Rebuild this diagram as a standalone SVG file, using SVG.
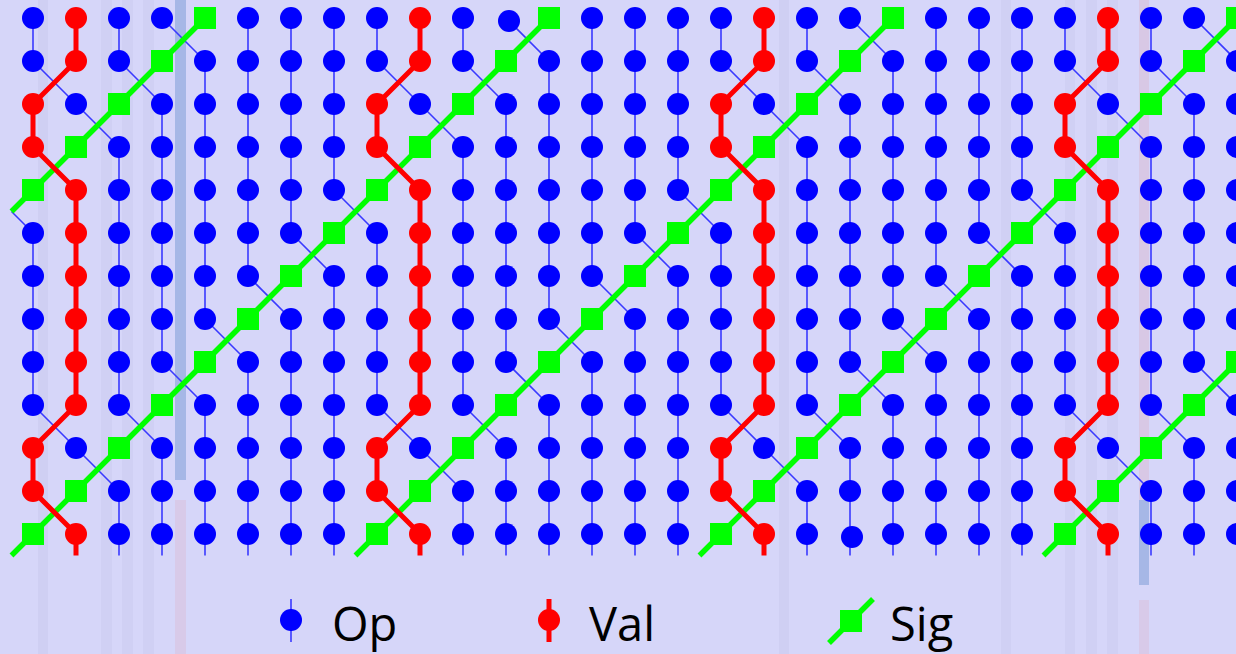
<svg xmlns="http://www.w3.org/2000/svg" xmlns:xlink="http://www.w3.org/1999/xlink" width="1236" height="654" viewBox="0 0 1236 654">
<style>
.bg{fill:#d6d6f9}
.st{fill:#cacaee}
.stb{fill:#a6b7e6}
.stp{fill:#d8c2dd}
.lo{fill:none;stroke:#3a3aff;stroke-width:1.6}
.lv{fill:none;stroke:#ff0000;stroke-width:5;stroke-linejoin:round}
.lg{fill:none;stroke:#00ff00;stroke-width:5.5}
.op{fill:#0000ff}
.val{fill:#ff0000}
.sig{fill:#00ff00}
.lbl{font-family:"Open Sans","Liberation Sans",sans-serif;font-size:47px;fill:#000}
</style>
<defs>
<circle id="op" class="op" r="11"/>
<circle id="val" class="val" r="11"/>
<rect id="sig" class="sig" x="-11" y="-11" width="22" height="22"/>
<!-- one 8-column block of the lattice; repeated every 344px -->
<path id="opV" class="lo" d="M33 18V61M33 233V405M119 18V61M119 147V405M119 491V555.5M162 104V362M162 448V555.5M205 61V319M205 405V555.5M248 18V276M248 362V555.5M291 18V233M291 319V555.5M334 18V190M334 276V555.5"/>
<path id="opD" class="lo" d="M162 18l43 43M33 61l43 43M119 61l43 43M76 104l43 43M334 190l43 43M291 233l43 43M248 276l43 43M205 319l43 43M162 362l43 43M33 405l43 43M119 405l43 43M76 448l43 43"/>
<path id="valP" class="lv" d="M76 18V61L33 104V147L76 190V405L33 448V491L76 534V555.5"/>
</defs>
<rect class="bg" x="0" y="0" width="1236" height="654"/>
<g id="stripes">
<rect class="st" x="38" y="0" width="10" height="654" opacity="0.6"/>
<rect class="st" x="101" y="0" width="11" height="654" opacity="0.45"/>
<rect class="st" x="122" y="0" width="11" height="654" opacity="0.45"/>
<rect class="st" x="143" y="0" width="11" height="654" opacity="0.45"/>
<rect class="stb" x="175" y="0" width="11" height="480"/>
<rect class="stp" x="175" y="500" width="11" height="154" opacity="0.6"/>
<rect class="st" x="779" y="0" width="10" height="654" opacity="0.6"/>
<rect class="st" x="1001" y="0" width="10" height="654" opacity="0.45"/>
<rect class="st" x="1065" y="0" width="10" height="654" opacity="0.45"/>
<rect class="st" x="1086" y="0" width="11" height="654" opacity="0.45"/>
<rect class="st" x="1107" y="0" width="11" height="654" opacity="0.45"/>
<rect class="stp" x="1139" y="0" width="10" height="500" opacity="0.7"/>
<rect class="stb" x="1139" y="500" width="10" height="85"/>
<rect class="stp" x="1139" y="600" width="10" height="54" opacity="0.6"/>
</g>
<g id="connectors">
<use href="#opV"/><use href="#opV" x="344"/><use href="#opV" x="688"/><use href="#opV" x="1032"/>
<use href="#opD"/><use href="#opD" x="344"/><use href="#opD" x="688"/><use href="#opD" x="1032"/>
<path class="lo" d="M11.5 211.5L33 233"/>
<path class="lg" d="M205 18L11.5 211.5M549 18L11.5 555.5M893 18L355.5 555.5M1237 18L699.5 555.5M1237 362L1043.5 555.5"/>
<use href="#valP"/><use href="#valP" x="344"/><use href="#valP" x="688"/><use href="#valP" x="1032"/>
</g>
<g id="nodes">
<g id="n0_0"><use href="#op" x="33" y="18"/></g><g id="n0_1"><use href="#val" x="76" y="18"/></g><g id="n0_2"><use href="#op" x="119" y="18"/></g><g id="n0_3"><use href="#op" x="162" y="18"/></g><g id="n0_4"><use href="#sig" x="205" y="18"/></g><g id="n0_5"><use href="#op" x="248" y="18"/></g><g id="n0_6"><use href="#op" x="291" y="18"/></g><g id="n0_7"><use href="#op" x="334" y="18"/></g>
<g id="n0_8"><use href="#op" x="377" y="18"/></g><g id="n0_9"><use href="#val" x="420" y="18"/></g><g id="n0_10"><use href="#op" x="463" y="18"/></g><g id="n0_11"><use href="#op" x="509" y="21"/></g><g id="n0_12"><use href="#sig" x="549" y="18"/></g><g id="n0_13"><use href="#op" x="592" y="18"/></g><g id="n0_14"><use href="#op" x="635" y="18"/></g><g id="n0_15"><use href="#op" x="678" y="18"/></g>
<g id="n0_16"><use href="#op" x="721" y="18"/></g><g id="n0_17"><use href="#val" x="764" y="18"/></g><g id="n0_18"><use href="#op" x="807" y="18"/></g><g id="n0_19"><use href="#op" x="850" y="18"/></g><g id="n0_20"><use href="#sig" x="893" y="18"/></g><g id="n0_21"><use href="#op" x="936" y="18"/></g><g id="n0_22"><use href="#op" x="979" y="18"/></g><g id="n0_23"><use href="#op" x="1022" y="18"/></g>
<g id="n0_24"><use href="#op" x="1065" y="18"/></g><g id="n0_25"><use href="#val" x="1108" y="18"/></g><g id="n0_26"><use href="#op" x="1151" y="18"/></g><g id="n0_27"><use href="#op" x="1194" y="18"/></g><g id="n0_28"><use href="#sig" x="1237" y="18"/></g>

<g id="n1_0"><use href="#op" x="33" y="61"/></g><g id="n1_1"><use href="#val" x="76" y="61"/></g><g id="n1_2"><use href="#op" x="119" y="61"/></g><g id="n1_3"><use href="#sig" x="162" y="61"/></g><g id="n1_4"><use href="#op" x="205" y="61"/></g><g id="n1_5"><use href="#op" x="248" y="61"/></g><g id="n1_6"><use href="#op" x="291" y="61"/></g><g id="n1_7"><use href="#op" x="334" y="61"/></g>
<g id="n1_8"><use href="#op" x="377" y="61"/></g><g id="n1_9"><use href="#val" x="420" y="61"/></g><g id="n1_10"><use href="#op" x="463" y="61"/></g><g id="n1_11"><use href="#sig" x="506" y="61"/></g><g id="n1_12"><use href="#op" x="549" y="61"/></g><g id="n1_13"><use href="#op" x="592" y="61"/></g><g id="n1_14"><use href="#op" x="635" y="61"/></g><g id="n1_15"><use href="#op" x="678" y="61"/></g>
<g id="n1_16"><use href="#op" x="721" y="61"/></g><g id="n1_17"><use href="#val" x="764" y="61"/></g><g id="n1_18"><use href="#op" x="807" y="61"/></g><g id="n1_19"><use href="#sig" x="850" y="61"/></g><g id="n1_20"><use href="#op" x="893" y="61"/></g><g id="n1_21"><use href="#op" x="936" y="61"/></g><g id="n1_22"><use href="#op" x="979" y="61"/></g><g id="n1_23"><use href="#op" x="1022" y="61"/></g>
<g id="n1_24"><use href="#op" x="1065" y="61"/></g><g id="n1_25"><use href="#val" x="1108" y="61"/></g><g id="n1_26"><use href="#op" x="1151" y="61"/></g><g id="n1_27"><use href="#sig" x="1194" y="61"/></g><g id="n1_28"><use href="#op" x="1237" y="61"/></g>

<g id="n2_0"><use href="#val" x="33" y="104"/></g><g id="n2_1"><use href="#op" x="76" y="104"/></g><g id="n2_2"><use href="#sig" x="119" y="104"/></g><g id="n2_3"><use href="#op" x="162" y="104"/></g><g id="n2_4"><use href="#op" x="205" y="104"/></g><g id="n2_5"><use href="#op" x="248" y="104"/></g><g id="n2_6"><use href="#op" x="291" y="104"/></g><g id="n2_7"><use href="#op" x="334" y="104"/></g>
<g id="n2_8"><use href="#val" x="377" y="104"/></g><g id="n2_9"><use href="#op" x="420" y="104"/></g><g id="n2_10"><use href="#sig" x="463" y="104"/></g><g id="n2_11"><use href="#op" x="506" y="104"/></g><g id="n2_12"><use href="#op" x="549" y="104"/></g><g id="n2_13"><use href="#op" x="592" y="104"/></g><g id="n2_14"><use href="#op" x="635" y="104"/></g><g id="n2_15"><use href="#op" x="678" y="104"/></g>
<g id="n2_16"><use href="#val" x="721" y="104"/></g><g id="n2_17"><use href="#op" x="764" y="104"/></g><g id="n2_18"><use href="#sig" x="807" y="104"/></g><g id="n2_19"><use href="#op" x="850" y="104"/></g><g id="n2_20"><use href="#op" x="893" y="104"/></g><g id="n2_21"><use href="#op" x="936" y="104"/></g><g id="n2_22"><use href="#op" x="979" y="104"/></g><g id="n2_23"><use href="#op" x="1022" y="104"/></g>
<g id="n2_24"><use href="#val" x="1065" y="104"/></g><g id="n2_25"><use href="#op" x="1108" y="104"/></g><g id="n2_26"><use href="#sig" x="1151" y="104"/></g><g id="n2_27"><use href="#op" x="1194" y="104"/></g><g id="n2_28"><use href="#op" x="1237" y="104"/></g>

<g id="n3_0"><use href="#val" x="33" y="147"/></g><g id="n3_1"><use href="#sig" x="76" y="147"/></g><g id="n3_2"><use href="#op" x="119" y="147"/></g><g id="n3_3"><use href="#op" x="162" y="147"/></g><g id="n3_4"><use href="#op" x="205" y="147"/></g><g id="n3_5"><use href="#op" x="248" y="147"/></g><g id="n3_6"><use href="#op" x="291" y="147"/></g><g id="n3_7"><use href="#op" x="334" y="147"/></g>
<g id="n3_8"><use href="#val" x="377" y="147"/></g><g id="n3_9"><use href="#sig" x="420" y="147"/></g><g id="n3_10"><use href="#op" x="463" y="147"/></g><g id="n3_11"><use href="#op" x="506" y="147"/></g><g id="n3_12"><use href="#op" x="549" y="147"/></g><g id="n3_13"><use href="#op" x="592" y="147"/></g><g id="n3_14"><use href="#op" x="635" y="147"/></g><g id="n3_15"><use href="#op" x="678" y="147"/></g>
<g id="n3_16"><use href="#val" x="721" y="147"/></g><g id="n3_17"><use href="#sig" x="764" y="147"/></g><g id="n3_18"><use href="#op" x="807" y="147"/></g><g id="n3_19"><use href="#op" x="850" y="147"/></g><g id="n3_20"><use href="#op" x="893" y="147"/></g><g id="n3_21"><use href="#op" x="936" y="147"/></g><g id="n3_22"><use href="#op" x="979" y="147"/></g><g id="n3_23"><use href="#op" x="1022" y="147"/></g>
<g id="n3_24"><use href="#val" x="1065" y="147"/></g><g id="n3_25"><use href="#sig" x="1108" y="147"/></g><g id="n3_26"><use href="#op" x="1151" y="147"/></g><g id="n3_27"><use href="#op" x="1194" y="147"/></g><g id="n3_28"><use href="#op" x="1237" y="147"/></g>

<g id="n4_0"><use href="#sig" x="33" y="190"/></g><g id="n4_1"><use href="#val" x="76" y="190"/></g><g id="n4_2"><use href="#op" x="119" y="190"/></g><g id="n4_3"><use href="#op" x="162" y="190"/></g><g id="n4_4"><use href="#op" x="205" y="190"/></g><g id="n4_5"><use href="#op" x="248" y="190"/></g><g id="n4_6"><use href="#op" x="291" y="190"/></g><g id="n4_7"><use href="#op" x="334" y="190"/></g>
<g id="n4_8"><use href="#sig" x="377" y="190"/></g><g id="n4_9"><use href="#val" x="420" y="190"/></g><g id="n4_10"><use href="#op" x="463" y="190"/></g><g id="n4_11"><use href="#op" x="506" y="190"/></g><g id="n4_12"><use href="#op" x="549" y="190"/></g><g id="n4_13"><use href="#op" x="592" y="190"/></g><g id="n4_14"><use href="#op" x="635" y="190"/></g><g id="n4_15"><use href="#op" x="678" y="190"/></g>
<g id="n4_16"><use href="#sig" x="721" y="190"/></g><g id="n4_17"><use href="#val" x="764" y="190"/></g><g id="n4_18"><use href="#op" x="807" y="190"/></g><g id="n4_19"><use href="#op" x="850" y="190"/></g><g id="n4_20"><use href="#op" x="893" y="190"/></g><g id="n4_21"><use href="#op" x="936" y="190"/></g><g id="n4_22"><use href="#op" x="979" y="190"/></g><g id="n4_23"><use href="#op" x="1022" y="190"/></g>
<g id="n4_24"><use href="#sig" x="1065" y="190"/></g><g id="n4_25"><use href="#val" x="1108" y="190"/></g><g id="n4_26"><use href="#op" x="1151" y="190"/></g><g id="n4_27"><use href="#op" x="1194" y="190"/></g><g id="n4_28"><use href="#op" x="1237" y="190"/></g>

<g id="n5_0"><use href="#op" x="33" y="233"/></g><g id="n5_1"><use href="#val" x="76" y="233"/></g><g id="n5_2"><use href="#op" x="119" y="233"/></g><g id="n5_3"><use href="#op" x="162" y="233"/></g><g id="n5_4"><use href="#op" x="205" y="233"/></g><g id="n5_5"><use href="#op" x="248" y="233"/></g><g id="n5_6"><use href="#op" x="291" y="233"/></g><g id="n5_7"><use href="#sig" x="334" y="233"/></g>
<g id="n5_8"><use href="#op" x="377" y="233"/></g><g id="n5_9"><use href="#val" x="420" y="233"/></g><g id="n5_10"><use href="#op" x="463" y="233"/></g><g id="n5_11"><use href="#op" x="506" y="233"/></g><g id="n5_12"><use href="#op" x="549" y="233"/></g><g id="n5_13"><use href="#op" x="592" y="233"/></g><g id="n5_14"><use href="#op" x="635" y="233"/></g><g id="n5_15"><use href="#sig" x="678" y="233"/></g>
<g id="n5_16"><use href="#op" x="721" y="233"/></g><g id="n5_17"><use href="#val" x="764" y="233"/></g><g id="n5_18"><use href="#op" x="807" y="233"/></g><g id="n5_19"><use href="#op" x="850" y="233"/></g><g id="n5_20"><use href="#op" x="893" y="233"/></g><g id="n5_21"><use href="#op" x="936" y="233"/></g><g id="n5_22"><use href="#op" x="979" y="233"/></g><g id="n5_23"><use href="#sig" x="1022" y="233"/></g>
<g id="n5_24"><use href="#op" x="1065" y="233"/></g><g id="n5_25"><use href="#val" x="1108" y="233"/></g><g id="n5_26"><use href="#op" x="1151" y="233"/></g><g id="n5_27"><use href="#op" x="1194" y="233"/></g><g id="n5_28"><use href="#op" x="1237" y="233"/></g>

<g id="n6_0"><use href="#op" x="33" y="276"/></g><g id="n6_1"><use href="#val" x="76" y="276"/></g><g id="n6_2"><use href="#op" x="119" y="276"/></g><g id="n6_3"><use href="#op" x="162" y="276"/></g><g id="n6_4"><use href="#op" x="205" y="276"/></g><g id="n6_5"><use href="#op" x="248" y="276"/></g><g id="n6_6"><use href="#sig" x="291" y="276"/></g><g id="n6_7"><use href="#op" x="334" y="276"/></g>
<g id="n6_8"><use href="#op" x="377" y="276"/></g><g id="n6_9"><use href="#val" x="420" y="276"/></g><g id="n6_10"><use href="#op" x="463" y="276"/></g><g id="n6_11"><use href="#op" x="506" y="276"/></g><g id="n6_12"><use href="#op" x="549" y="276"/></g><g id="n6_13"><use href="#op" x="592" y="276"/></g><g id="n6_14"><use href="#sig" x="635" y="276"/></g><g id="n6_15"><use href="#op" x="678" y="276"/></g>
<g id="n6_16"><use href="#op" x="721" y="276"/></g><g id="n6_17"><use href="#val" x="764" y="276"/></g><g id="n6_18"><use href="#op" x="807" y="276"/></g><g id="n6_19"><use href="#op" x="850" y="276"/></g><g id="n6_20"><use href="#op" x="893" y="276"/></g><g id="n6_21"><use href="#op" x="936" y="276"/></g><g id="n6_22"><use href="#sig" x="979" y="276"/></g><g id="n6_23"><use href="#op" x="1022" y="276"/></g>
<g id="n6_24"><use href="#op" x="1065" y="276"/></g><g id="n6_25"><use href="#val" x="1108" y="276"/></g><g id="n6_26"><use href="#op" x="1151" y="276"/></g><g id="n6_27"><use href="#op" x="1194" y="276"/></g><g id="n6_28"><use href="#op" x="1237" y="276"/></g>

<g id="n7_0"><use href="#op" x="33" y="319"/></g><g id="n7_1"><use href="#val" x="76" y="319"/></g><g id="n7_2"><use href="#op" x="119" y="319"/></g><g id="n7_3"><use href="#op" x="162" y="319"/></g><g id="n7_4"><use href="#op" x="205" y="319"/></g><g id="n7_5"><use href="#sig" x="248" y="319"/></g><g id="n7_6"><use href="#op" x="291" y="319"/></g><g id="n7_7"><use href="#op" x="334" y="319"/></g>
<g id="n7_8"><use href="#op" x="377" y="319"/></g><g id="n7_9"><use href="#val" x="420" y="319"/></g><g id="n7_10"><use href="#op" x="463" y="319"/></g><g id="n7_11"><use href="#op" x="506" y="319"/></g><g id="n7_12"><use href="#op" x="549" y="319"/></g><g id="n7_13"><use href="#sig" x="592" y="319"/></g><g id="n7_14"><use href="#op" x="635" y="319"/></g><g id="n7_15"><use href="#op" x="678" y="319"/></g>
<g id="n7_16"><use href="#op" x="721" y="319"/></g><g id="n7_17"><use href="#val" x="764" y="319"/></g><g id="n7_18"><use href="#op" x="807" y="319"/></g><g id="n7_19"><use href="#op" x="850" y="319"/></g><g id="n7_20"><use href="#op" x="893" y="319"/></g><g id="n7_21"><use href="#sig" x="936" y="319"/></g><g id="n7_22"><use href="#op" x="979" y="319"/></g><g id="n7_23"><use href="#op" x="1022" y="319"/></g>
<g id="n7_24"><use href="#op" x="1065" y="319"/></g><g id="n7_25"><use href="#val" x="1108" y="319"/></g><g id="n7_26"><use href="#op" x="1151" y="319"/></g><g id="n7_27"><use href="#op" x="1194" y="319"/></g><g id="n7_28"><use href="#op" x="1237" y="319"/></g>

<g id="n8_0"><use href="#op" x="33" y="362"/></g><g id="n8_1"><use href="#val" x="76" y="362"/></g><g id="n8_2"><use href="#op" x="119" y="362"/></g><g id="n8_3"><use href="#op" x="162" y="362"/></g><g id="n8_4"><use href="#sig" x="205" y="362"/></g><g id="n8_5"><use href="#op" x="248" y="362"/></g><g id="n8_6"><use href="#op" x="291" y="362"/></g><g id="n8_7"><use href="#op" x="334" y="362"/></g>
<g id="n8_8"><use href="#op" x="377" y="362"/></g><g id="n8_9"><use href="#val" x="420" y="362"/></g><g id="n8_10"><use href="#op" x="463" y="362"/></g><g id="n8_11"><use href="#op" x="506" y="362"/></g><g id="n8_12"><use href="#sig" x="549" y="362"/></g><g id="n8_13"><use href="#op" x="592" y="362"/></g><g id="n8_14"><use href="#op" x="635" y="362"/></g><g id="n8_15"><use href="#op" x="678" y="362"/></g>
<g id="n8_16"><use href="#op" x="721" y="362"/></g><g id="n8_17"><use href="#val" x="764" y="362"/></g><g id="n8_18"><use href="#op" x="807" y="362"/></g><g id="n8_19"><use href="#op" x="850" y="362"/></g><g id="n8_20"><use href="#sig" x="893" y="362"/></g><g id="n8_21"><use href="#op" x="936" y="362"/></g><g id="n8_22"><use href="#op" x="979" y="362"/></g><g id="n8_23"><use href="#op" x="1022" y="362"/></g>
<g id="n8_24"><use href="#op" x="1065" y="362"/></g><g id="n8_25"><use href="#val" x="1108" y="362"/></g><g id="n8_26"><use href="#op" x="1151" y="362"/></g><g id="n8_27"><use href="#op" x="1194" y="362"/></g><g id="n8_28"><use href="#sig" x="1237" y="362"/></g>

<g id="n9_0"><use href="#op" x="33" y="405"/></g><g id="n9_1"><use href="#val" x="76" y="405"/></g><g id="n9_2"><use href="#op" x="119" y="405"/></g><g id="n9_3"><use href="#sig" x="162" y="405"/></g><g id="n9_4"><use href="#op" x="205" y="405"/></g><g id="n9_5"><use href="#op" x="248" y="405"/></g><g id="n9_6"><use href="#op" x="291" y="405"/></g><g id="n9_7"><use href="#op" x="334" y="405"/></g>
<g id="n9_8"><use href="#op" x="377" y="405"/></g><g id="n9_9"><use href="#val" x="420" y="405"/></g><g id="n9_10"><use href="#op" x="463" y="405"/></g><g id="n9_11"><use href="#sig" x="506" y="405"/></g><g id="n9_12"><use href="#op" x="549" y="405"/></g><g id="n9_13"><use href="#op" x="592" y="405"/></g><g id="n9_14"><use href="#op" x="635" y="405"/></g><g id="n9_15"><use href="#op" x="678" y="405"/></g>
<g id="n9_16"><use href="#op" x="721" y="405"/></g><g id="n9_17"><use href="#val" x="764" y="405"/></g><g id="n9_18"><use href="#op" x="807" y="405"/></g><g id="n9_19"><use href="#sig" x="850" y="405"/></g><g id="n9_20"><use href="#op" x="893" y="405"/></g><g id="n9_21"><use href="#op" x="936" y="405"/></g><g id="n9_22"><use href="#op" x="979" y="405"/></g><g id="n9_23"><use href="#op" x="1022" y="405"/></g>
<g id="n9_24"><use href="#op" x="1065" y="405"/></g><g id="n9_25"><use href="#val" x="1108" y="405"/></g><g id="n9_26"><use href="#op" x="1151" y="405"/></g><g id="n9_27"><use href="#sig" x="1194" y="405"/></g><g id="n9_28"><use href="#op" x="1237" y="405"/></g>

<g id="n10_0"><use href="#val" x="33" y="448"/></g><g id="n10_1"><use href="#op" x="76" y="448"/></g><g id="n10_2"><use href="#sig" x="119" y="448"/></g><g id="n10_3"><use href="#op" x="162" y="448"/></g><g id="n10_4"><use href="#op" x="205" y="448"/></g><g id="n10_5"><use href="#op" x="248" y="448"/></g><g id="n10_6"><use href="#op" x="291" y="448"/></g><g id="n10_7"><use href="#op" x="334" y="448"/></g>
<g id="n10_8"><use href="#val" x="377" y="448"/></g><g id="n10_9"><use href="#op" x="420" y="448"/></g><g id="n10_10"><use href="#sig" x="463" y="448"/></g><g id="n10_11"><use href="#op" x="506" y="448"/></g><g id="n10_12"><use href="#op" x="549" y="448"/></g><g id="n10_13"><use href="#op" x="592" y="448"/></g><g id="n10_14"><use href="#op" x="635" y="448"/></g><g id="n10_15"><use href="#op" x="678" y="448"/></g>
<g id="n10_16"><use href="#val" x="721" y="448"/></g><g id="n10_17"><use href="#op" x="764" y="448"/></g><g id="n10_18"><use href="#sig" x="807" y="448"/></g><g id="n10_19"><use href="#op" x="850" y="448"/></g><g id="n10_20"><use href="#op" x="893" y="448"/></g><g id="n10_21"><use href="#op" x="936" y="448"/></g><g id="n10_22"><use href="#op" x="979" y="448"/></g><g id="n10_23"><use href="#op" x="1022" y="448"/></g>
<g id="n10_24"><use href="#val" x="1065" y="448"/></g><g id="n10_25"><use href="#op" x="1108" y="448"/></g><g id="n10_26"><use href="#sig" x="1151" y="448"/></g><g id="n10_27"><use href="#op" x="1194" y="448"/></g><g id="n10_28"><use href="#op" x="1237" y="448"/></g>

<g id="n11_0"><use href="#val" x="33" y="491"/></g><g id="n11_1"><use href="#sig" x="76" y="491"/></g><g id="n11_2"><use href="#op" x="119" y="491"/></g><g id="n11_3"><use href="#op" x="162" y="491"/></g><g id="n11_4"><use href="#op" x="205" y="491"/></g><g id="n11_5"><use href="#op" x="248" y="491"/></g><g id="n11_6"><use href="#op" x="291" y="491"/></g><g id="n11_7"><use href="#op" x="334" y="491"/></g>
<g id="n11_8"><use href="#val" x="377" y="491"/></g><g id="n11_9"><use href="#sig" x="420" y="491"/></g><g id="n11_10"><use href="#op" x="463" y="491"/></g><g id="n11_11"><use href="#op" x="506" y="491"/></g><g id="n11_12"><use href="#op" x="549" y="491"/></g><g id="n11_13"><use href="#op" x="592" y="491"/></g><g id="n11_14"><use href="#op" x="635" y="491"/></g><g id="n11_15"><use href="#op" x="678" y="491"/></g>
<g id="n11_16"><use href="#val" x="721" y="491"/></g><g id="n11_17"><use href="#sig" x="764" y="491"/></g><g id="n11_18"><use href="#op" x="807" y="491"/></g><g id="n11_19"><use href="#op" x="850" y="491"/></g><g id="n11_20"><use href="#op" x="893" y="491"/></g><g id="n11_21"><use href="#op" x="936" y="491"/></g><g id="n11_22"><use href="#op" x="979" y="491"/></g><g id="n11_23"><use href="#op" x="1022" y="491"/></g>
<g id="n11_24"><use href="#val" x="1065" y="491"/></g><g id="n11_25"><use href="#sig" x="1108" y="491"/></g><g id="n11_26"><use href="#op" x="1151" y="491"/></g><g id="n11_27"><use href="#op" x="1194" y="491"/></g><g id="n11_28"><use href="#op" x="1237" y="491"/></g>

<g id="n12_0"><use href="#sig" x="33" y="534"/></g><g id="n12_1"><use href="#val" x="76" y="534"/></g><g id="n12_2"><use href="#op" x="119" y="534"/></g><g id="n12_3"><use href="#op" x="162" y="534"/></g><g id="n12_4"><use href="#op" x="205" y="534"/></g><g id="n12_5"><use href="#op" x="248" y="534"/></g><g id="n12_6"><use href="#op" x="291" y="534"/></g><g id="n12_7"><use href="#op" x="334" y="534"/></g>
<g id="n12_8"><use href="#sig" x="377" y="534"/></g><g id="n12_9"><use href="#val" x="420" y="534"/></g><g id="n12_10"><use href="#op" x="463" y="534"/></g><g id="n12_11"><use href="#op" x="506" y="534"/></g><g id="n12_12"><use href="#op" x="549" y="534"/></g><g id="n12_13"><use href="#op" x="592" y="534"/></g><g id="n12_14"><use href="#op" x="635" y="534"/></g><g id="n12_15"><use href="#op" x="678" y="534"/></g>
<g id="n12_16"><use href="#sig" x="721" y="534"/></g><g id="n12_17"><use href="#val" x="764" y="534"/></g><g id="n12_18"><use href="#op" x="807" y="534"/></g><g id="n12_19"><use href="#op" x="852" y="537"/></g><g id="n12_20"><use href="#op" x="893" y="534"/></g><g id="n12_21"><use href="#op" x="936" y="534"/></g><g id="n12_22"><use href="#op" x="979" y="534"/></g><g id="n12_23"><use href="#op" x="1022" y="534"/></g>
<g id="n12_24"><use href="#sig" x="1065" y="534"/></g><g id="n12_25"><use href="#val" x="1108" y="534"/></g><g id="n12_26"><use href="#op" x="1151" y="534"/></g><g id="n12_27"><use href="#op" x="1194" y="534"/></g><g id="n12_28"><use href="#op" x="1237" y="534"/></g>
</g>
<g id="legend">
<g id="key-op"><path class="lo" d="M291 599V642"/><use href="#op" x="291" y="620"/><text class="lbl" x="332" y="641">Op</text></g>
<g id="key-val"><path class="lv" d="M549 599V642"/><use href="#val" x="549" y="620"/><text class="lbl" x="589" y="641">Val</text></g>
<g id="key-sig"><path class="lg" d="M829 643L873 599"/><use href="#sig" x="851" y="621"/><text class="lbl" x="890" y="641">Sig</text></g>
</g>
</svg>
